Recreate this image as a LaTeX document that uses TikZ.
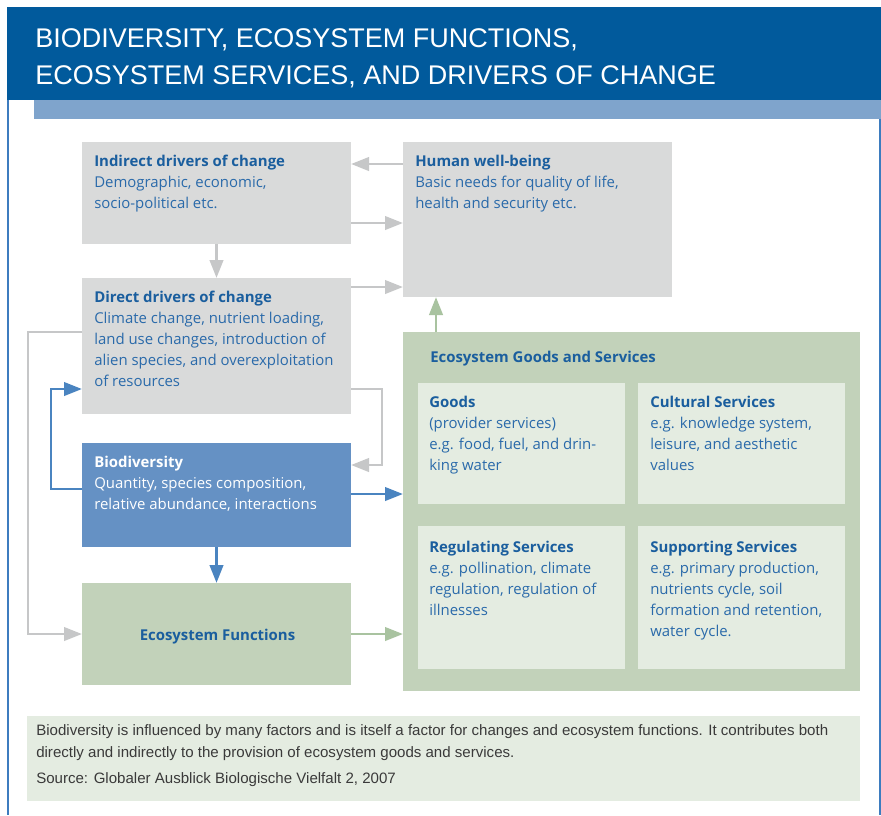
\documentclass[tikz,border=0pt]{standalone}
\usepackage{fontspec}
\setmainfont{Open Sans}
\newfontfamily\headfont{Liberation Sans}
\usetikzlibrary{arrows.meta,calc,fit}
\definecolor{headblue}{HTML}{015A9C}
\definecolor{barblue}{HTML}{7FA4CC}
\definecolor{frameblue}{HTML}{3D7CBF}
\definecolor{boxgray}{HTML}{D9DADA}
\definecolor{biobox}{HTML}{6591C4}
\definecolor{greenbox}{HTML}{C2D2BA}
\definecolor{lightgreen}{HTML}{E4ECE1}
\definecolor{arrgray}{HTML}{C6C7C8}
\definecolor{arrblue}{HTML}{4A84C0}
\definecolor{arrgreen}{HTML}{A9C3A0}
\definecolor{titleblue}{HTML}{1A5E9E}
\definecolor{bodyblue}{HTML}{2A6AAA}
\definecolor{captext}{HTML}{3A3A3A}
\newcommand\boxlines[1]{\begin{tabular}[t]{@{}l@{}}#1\end{tabular}}
\newcommand\ttl[1]{\textcolor{titleblue}{\bfseries #1}}
\begin{document}
\begin{tikzpicture}[x=0.75pt,y=-0.75pt,
  area/.style={inner sep=0pt, outer sep=0pt, draw=none},
  txt/.style={inner sep=0pt, anchor=base west, text=bodyblue, font=\fontsize{11.2}{15.75}\selectfont},
  captxt/.style={inner sep=0pt, anchor=base west, text=captext, font=\headfont\fontsize{11.3}{16.5}\selectfont},
  conn/.style={line width=2.2pt, -{Triangle[length=13.5pt,width=10pt]}},
  garrow/.style={conn, draw=arrgray},
  barrow/.style={conn, draw=arrblue},
  grarrow/.style={conn, draw=arrgreen}]
\useasboundingbox (0,0) rectangle (881,815);
% frame
\fill[white] (0,0) rectangle (881,815);
\draw[frameblue, line width=1.1pt] (8,100) -- (8,815);
\draw[frameblue, line width=1.1pt] (880,100) -- (880,815);
\node[area, fill=headblue, fit={(7,7) (881,100)}] (head) {};
\node[area, fill=barblue, fit={(34,100) (881,119)}] (bar) {};
\node[inner sep=0pt, anchor=base west, text=white, font=\headfont\fontsize{20.25}{27.75}\selectfont] (title) at (35,47)
  {\begin{tabular}[t]{@{}l@{}}BIODIVERSITY, ECOSYSTEM FUNCTIONS,\\ECOSYSTEM SERVICES, AND DRIVERS OF CHANGE\end{tabular}};
% boxes
\node[area, fill=boxgray, fit={(82,142) (351,244)}] (ind) {};
\node[area, fill=boxgray, fit={(403,142) (672,297)}] (hw) {};
\node[area, fill=boxgray, fit={(82,278) (351,414)}] (dir) {};
\node[area, fill=biobox, fit={(82,443) (351,547)}] (bio) {};
\node[area, fill=greenbox, fit={(82,583) (351,685)}] (ef) {};
\node[area, fill=greenbox, fit={(403,332) (860,691)}] (egs) {};
\node[area, fill=lightgreen, fit={(418,383) (625,504)}] (goods) {};
\node[area, fill=lightgreen, fit={(638,383) (845,504)}] (cult) {};
\node[area, fill=lightgreen, fit={(418,526) (625,669)}] (reg) {};
\node[area, fill=lightgreen, fit={(638,526) (845,669)}] (sup) {};
\node[area, fill=lightgreen, fit={(27,716) (860,801)}] (cap) {};
% texts
\node[txt] (indT) at (94,166) {\boxlines{\ttl{Indirect drivers of change}\\Demographic, economic,\\socio-political etc.}};
\node[txt] (hwT) at (415,166) {\boxlines{\ttl{Human well-being}\\Basic needs for quality of life,\\health and security etc.}};
\node[txt] (dirT) at (94,302) {\boxlines{\ttl{Direct drivers of change}\\Climate change, nutrient loading,\\land use changes, introduction of\\alien species, and overexploitation\\of resources}};
\node[txt, text=white] (bioT) at (94,467) {\boxlines{\textbf{Biodiversity}\\Quantity, species composition,\\relative abundance, interactions}};
\node[txt, anchor=base, text=titleblue] (efT) at (217.5,640) {\bfseries Ecosystem Functions};
\node[txt, text=titleblue] (egsT) at (430,362) {\bfseries Ecosystem Goods and Services};
\node[txt] (goodsT) at (429,407) {\boxlines{\ttl{Goods}\\(provider services)\\e.g. food, fuel, and drin-\\king water}};
\node[txt] (cultT) at (650,407) {\boxlines{\ttl{Cultural Services}\\e.g. knowledge system,\\leisure, and aesthetic\\values}};
\node[txt] (regT) at (429,552) {\boxlines{\ttl{Regulating Services}\\e.g. pollination, climate\\regulation, regulation of\\illnesses}};
\node[txt] (supT) at (650,552) {\boxlines{\ttl{Supporting Services}\\e.g. primary production,\\nutrients cycle, soil\\formation and retention,\\water cycle.}};
\node[captxt] (capT) at (36,735) {\boxlines{Biodiversity is influenced by many factors and is itself a factor for changes and ecosystem functions. It contributes both\\directly and indirectly to the provision of ecosystem goods and services.}};
\node[captxt] (srcT) at (36,783) {Source: Globaler Ausblick Biologische Vielfalt 2, 2007};
% connectors
\draw[garrow] ($(hw.north west)+(0,22)$) -- ($(ind.north east)+(0,22)$);
\draw[garrow] ($(ind.north east)+(0,81)$) -- ($(hw.north west)+(0,81)$);
\draw[garrow] ($(dir.north east)+(0,9)$) -- ($(hw.north west)+(0,145)$);
\draw[garrow] (ind.south) -- (dir.north);
\draw[garrow] ($(dir.north east)+(0,111)$) -- ++(31,0) |- ($(bio.north east)+(0,22)$);
\draw[garrow] ($(dir.north west)+(0,54)$) -- ++(-54,0) |- (ef.west);
\draw[barrow] ($(bio.north west)+(0,46)$) -- ++(-31,0) |- ($(dir.north west)+(0,111)$);
\draw[barrow] (bio.south) -- (ef.north);
\draw[barrow] ($(bio.north east)+(0,51)$) -- ($(egs.north west)+(0,162)$);
\draw[grarrow] (ef.east) -- ($(egs.north west)+(0,302)$);
\draw[grarrow] ($(egs.north west)+(33,0)$) -- ($(hw.south west)+(33,0)$);
\end{tikzpicture}
\end{document}
